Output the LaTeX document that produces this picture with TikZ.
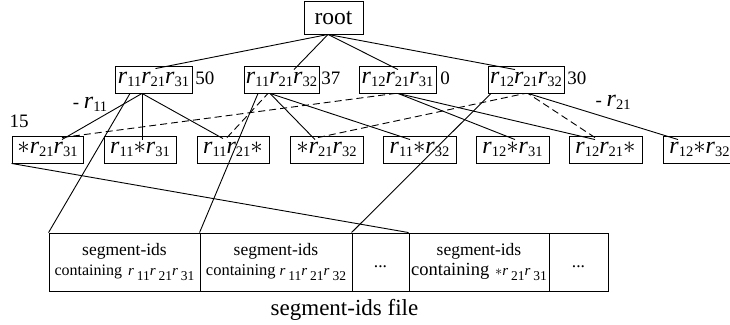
\documentclass[tikz,border=0pt]{standalone}
\usepackage{fontspec}
\setmainfont{Liberation Serif}
\usetikzlibrary{calc}
\newcommand\rs[1]{{\fontsize{24}{24}\selectfont\textit{r}}\raisebox{-3pt}{\fontsize{14.5}{15}\selectfont #1}}
\newcommand\rb[1]{{\fontsize{15}{15}\selectfont\textit{r}}\,\raisebox{-5pt}{\fontsize{13.5}{14}\selectfont #1}}
\newcommand\ax{{\fontsize{23}{23}\selectfont$\ast$}}
\begin{document}
\begin{tikzpicture}[x=1pt,y=-1pt,line width=0.9pt,
  lv/.style={draw, inner sep=0pt, minimum height=27pt, font=\fontsize{21}{24}\selectfont},
  lbl/.style={inner sep=0pt, font=\fontsize{19}{22}\selectfont},
  fbox/.style={draw, inner sep=0pt, minimum height=58pt, align=center, font=\fontsize{17.5}{20}\selectfont},
  dsh/.style={dash pattern=on 7pt off 4pt}]
\useasboundingbox (0,0) rectangle (730,324);
\clip (0,0) rectangle (730,324);
% root
\node[lv, minimum width=59pt, minimum height=33pt, font=\fontsize{23.5}{26}\selectfont] (root) at (333.5,17.5) {root};
% level 1
\node[lv, minimum width=77pt] (A1) at (153.5,79.5) {\rs{11}\rs{21}\rs{31}};
\node[lv, minimum width=75pt] (A2) at (281.5,79.5) {\rs{11}\rs{21}\rs{32}};
\node[lv, minimum width=77pt] (A3) at (397.5,79.5) {\rs{12}\rs{21}\rs{31}};
\node[lv, minimum width=76pt] (A4) at (526,79.5) {\rs{12}\rs{21}\rs{32}};
\node[lbl, anchor=west] (n50) at (195,78.5) {50};
\node[lbl, anchor=west] (n37) at (321,78.5) {37};
\node[lbl, anchor=west] (n0) at (440,78.5) {0};
\node[lbl, anchor=west] (n30) at (567,78.5) {30};
\node[lbl] (n15) at (19,121) {15};
\node[lbl] (m11) at (90,104) {- \rs{11}};
\node[lbl] (m21) at (613,102) {- \rs{21}};
% level 2
\node[lv, minimum width=71pt] (B1) at (47.5,149.5) {\ax\rs{21}\rs{31}};
\node[lv, minimum width=72pt] (B2) at (140,149.5) {\rs{11}\ax\rs{31}};
\node[lv, minimum width=72pt] (B3) at (233,149.5) {\rs{11}\rs{21}\ax};
\node[lv, minimum width=73pt] (B4) at (326.5,149.5) {\ax\rs{21}\rs{32}};
\node[lv, minimum width=73pt] (B5) at (419.5,149.5) {\rs{11}\ax\rs{32}};
\node[lv, minimum width=73pt] (B6) at (512.5,149.5) {\rs{12}\ax\rs{31}};
\node[lv, minimum width=73pt] (B7) at (605.5,149.5) {\rs{12}\rs{21}\ax};
\node[lv, minimum width=73pt] (B8) at (699.5,149.5) {\rs{12}\ax\rs{32}};
% file
\node[fbox, text width=151pt] (C1) at (124.5,262) {segment-ids\\{\fontsize{16}{20}\selectfont containing}\hspace{6pt}\rb{11}\rb{21}\rb{31}};
\node[fbox, text width=152pt] (C2) at (276,262) {segment-ids\\{\fontsize{16.5}{20}\selectfont containing}\hspace{4pt}\rb{11}\rb{21}\rb{32}};
\node[fbox, text width=57pt, text height=10pt, text depth=0pt] (C3) at (380.5,262) {...};
\node[fbox, text width=140pt] (C4) at (479,262) {segment-ids\\{\fontsize{18.5}{20}\selectfont containing} {\fontsize{14}{14}\selectfont$\ast$}\rb{21}\rb{31}};
\node[fbox, text width=59pt, text height=10pt, text depth=0pt] (C5) at (578.5,262) {...};
\node[inner sep=0pt, font=\fontsize{23}{26}\selectfont] (cap) at (344.5,310) {segment-ids file};
% root edges
\draw ([xshift=-5.5pt]root.south) -- ([xshift=2pt,yshift=-3pt]A1.north);
\draw ([xshift=-5.5pt]root.south) -- ([xshift=12.5pt,yshift=-4pt]A2.north);
\draw ([xshift=-5.5pt]root.south) -- ([xshift=0.5pt,yshift=-4pt]A3.north);
\draw ([xshift=-5.5pt]root.south) -- ([xshift=-11pt,yshift=-4pt]A4.north);
% A1
\draw ([xshift=-11.5pt]A1.south) -- ([xshift=14.5pt,yshift=-4pt]B1.north);
\draw ([xshift=-11.5pt]A1.south) -- ([xshift=2pt,yshift=-4pt]B2.north);
\draw ([xshift=-11.5pt]A1.south) -- ([xshift=-10pt,yshift=-3pt]B3.north);
\draw ([xshift=-23.5pt]A1.south) -- (C1.north west);
% A2
\draw ([xshift=-11.5pt]A2.south) -- ([xshift=-11.5pt,yshift=-4pt]B4.north);
\draw ([xshift=-11.5pt]A2.south) -- ([xshift=-9.5pt,yshift=-4pt]B5.north);
\draw ([xshift=-23.5pt]A2.south) -- (C2.north west);
\draw[dsh] ([xshift=-6pt,yshift=-2pt]B3.north) -- ([xshift=-13.5pt]A2.south);
% A3
\draw ([xshift=0.5pt]A3.south) -- ([xshift=2.5pt,yshift=-4pt]B6.north);
\draw ([xshift=0.5pt]A3.south) -- ([xshift=-10.5pt,yshift=-4pt]B7.north);
\draw[dsh] ([xshift=14.5pt,yshift=-2pt]B1.north) -- ([xshift=-2.5pt]A3.south);
% A4
\draw ([xshift=2pt]A4.south) -- ([xshift=-21.5pt,yshift=-4pt]B8.north);
\draw ([xshift=-35pt]A4.south) -- (C3.north west);
\draw[dsh] ([xshift=-8.5pt,yshift=-2pt]B4.north) -- ([xshift=-1pt]A4.south);
\draw[dsh] ([xshift=-10.5pt,yshift=-2pt]B7.north) -- ([xshift=2pt]A4.south);
% B1 to file
\draw (B1.south west) -- (C4.north west);
\end{tikzpicture}
\end{document}
